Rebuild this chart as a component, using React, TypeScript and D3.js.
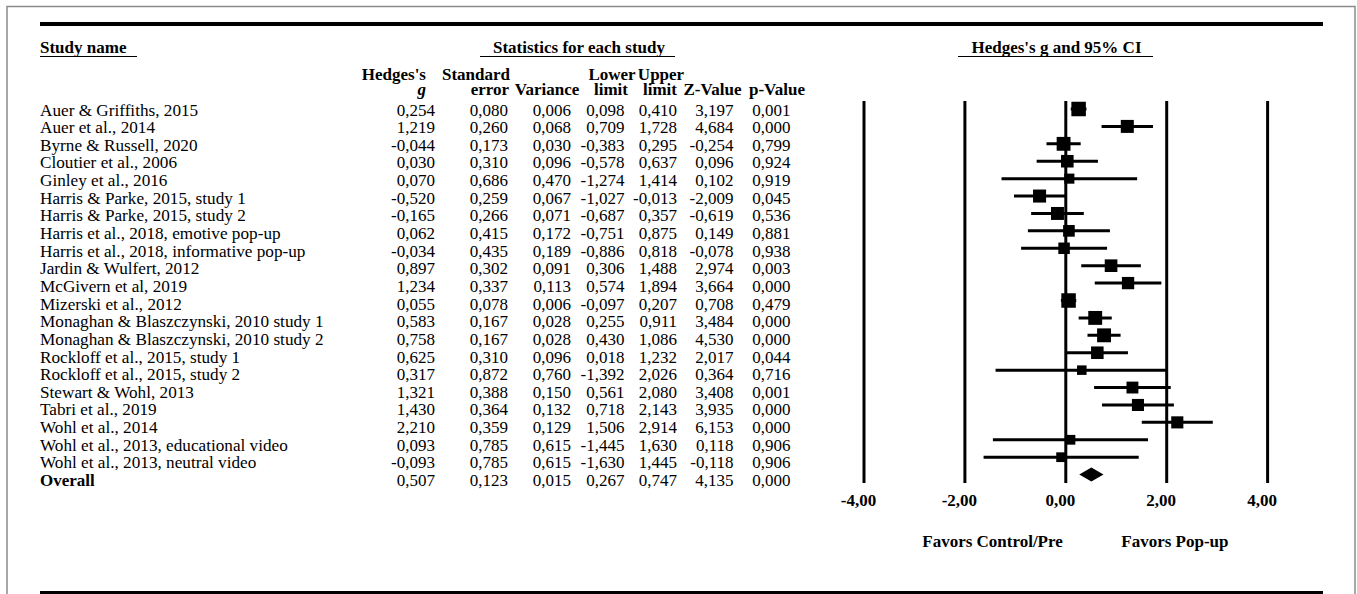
import React from "react";
import * as d3 from "d3";

const studies = [
  "Auer & Griffiths, 2015",
  "Auer et al., 2014",
  "Byrne & Russell, 2020",
  "Cloutier et al., 2006",
  "Ginley et al., 2016",
  "Harris & Parke, 2015, study 1",
  "Harris & Parke, 2015, study 2",
  "Harris et al., 2018, emotive pop-up",
  "Harris et al., 2018, informative pop-up",
  "Jardin & Wulfert, 2012",
  "McGivern et al, 2019",
  "Mizerski et al., 2012",
  "Monaghan & Blaszczynski, 2010 study 1",
  "Monaghan & Blaszczynski, 2010 study 2",
  "Rockloff et al., 2015, study 1",
  "Rockloff et al., 2015, study 2",
  "Stewart & Wohl, 2013",
  "Tabri et al., 2019",
  "Wohl et al., 2014",
  "Wohl et al., 2013, educational video",
  "Wohl et al., 2013, neutral video",
];
const hedgesG = [0.254, 1.219, -0.044, 0.03, 0.07, -0.52, -0.165, 0.062, -0.034, 0.897, 1.234, 0.055, 0.583, 0.758, 0.625, 0.317, 1.321, 1.43, 2.21, 0.093, -0.093];
const stdErr = [0.08, 0.26, 0.173, 0.31, 0.686, 0.259, 0.266, 0.415, 0.435, 0.302, 0.337, 0.078, 0.167, 0.167, 0.31, 0.872, 0.388, 0.364, 0.359, 0.785, 0.785];
const variance = [0.006, 0.068, 0.03, 0.096, 0.47, 0.067, 0.071, 0.172, 0.189, 0.091, 0.113, 0.006, 0.028, 0.028, 0.096, 0.76, 0.15, 0.132, 0.129, 0.615, 0.615];
const lowerLimit = [0.098, 0.709, -0.383, -0.578, -1.274, -1.027, -0.687, -0.751, -0.886, 0.306, 0.574, -0.097, 0.255, 0.43, 0.018, -1.392, 0.561, 0.718, 1.506, -1.445, -1.63];
const upperLimit = [0.41, 1.728, 0.295, 0.637, 1.414, -0.013, 0.357, 0.875, 0.818, 1.488, 1.894, 0.207, 0.911, 1.086, 1.232, 2.026, 2.08, 2.143, 2.914, 1.63, 1.445];
const zValue = [3.197, 4.684, -0.254, 0.096, 0.102, -2.009, -0.619, 0.149, -0.078, 2.974, 3.664, 0.708, 3.484, 4.53, 2.017, 0.364, 3.408, 3.935, 6.153, 0.118, -0.118];
const pValue = [0.001, 0.0, 0.799, 0.924, 0.919, 0.045, 0.536, 0.881, 0.938, 0.003, 0.0, 0.479, 0.0, 0.0, 0.044, 0.716, 0.001, 0.0, 0.0, 0.906, 0.906];

const overallLabel = "Overall";
const overallRow = [0.507, 0.123, 0.015, 0.267, 0.747, 4.135, 0.0];

const axisTicks = [-4, -2, 0, 2, 4];
const favorsLeft = "Favors Control/Pre";
const favorsRight = "Favors Pop-up";

const FONT = "'Liberation Serif', 'Times New Roman', Times, serif";
const fmt3 = (v: number) => d3.format(".3f")(v).replace(".", ",").replace("−", "-");
const fmt2 = (v: number) => d3.format(".2f")(v).replace(".", ",").replace("−", "-");

export default function App() {
  const W = 1357;
  const H = 594;
  const n = studies.length;

  // effect-size axis
  const x = d3.scaleLinear().domain([-4, 4]).range([864, 1267.6]);
  // row positions (markers and text)
  const yMark = d3.scaleLinear().domain([0, n]).range([109, 474.6]);
  const yText = d3.scaleLinear().domain([0, n]).range([115.5, 486]);

  // random-effects weights (DerSimonian-Laird) for box sizes
  const wFixed = variance.map((v) => 1 / v);
  const sw = d3.sum(wFixed);
  const mean = d3.sum(hedgesG.map((g, i) => g * wFixed[i])) / sw;
  const Q = d3.sum(hedgesG.map((g, i) => wFixed[i] * (g - mean) ** 2));
  const C = sw - d3.sum(wFixed.map((w) => w * w)) / sw;
  const tau2 = Math.max(0, (Q - (n - 1)) / C);
  const wRand = variance.map((v) => 1 / (v + tau2));
  const boxSize = d3
    .scaleLinear()
    .domain(d3.extent(wRand) as [number, number])
    .range([9.5, 14.5]);

  const columns: { values: number[]; right: number }[] = [
    { values: hedgesG, right: 435 },
    { values: stdErr, right: 508 },
    { values: variance, right: 571 },
    { values: lowerLimit, right: 624.5 },
    { values: upperLimit, right: 677 },
    { values: zValue, right: 733.5 },
    { values: pValue, right: 790.5 },
  ];

  const fs = 17;
  const diamond = d3.line()([
    [x(overallRow[3]), yMark(n)],
    [x(overallRow[0]), yMark(n) - 7],
    [x(overallRow[4]), yMark(n)],
    [x(overallRow[0]), yMark(n) + 7],
  ]) + "Z";

  const lineTop = 101;
  const lineBottom = 483;

  return (
    <svg
      width={W}
      height={H}
      style={{ position: "absolute", left: 0, top: 0, background: "#fff" }}
      fontFamily={FONT}
      fontSize={fs}
    >
      <rect x={0} y={0} width={W} height={H} fill="#fff" />
      {/* frame */}
      <path d={`M7,${H + 5} L7,6.5 L1355,6.5 L1355,${H + 5}`} fill="none" stroke="#8a8a8a" strokeWidth={1.5} />
      {/* thick rules */}
      <line x1={40} x2={1323} y1={24} y2={24} stroke="#000" strokeWidth={4} />
      <line x1={40} x2={1323} y1={593} y2={593} stroke="#000" strokeWidth={4} />

      {/* section titles */}
      <g fontWeight="bold">
        <text x={40} y={53}>Study name</text>
        <line x1={40} x2={137} y1={56.5} y2={56.5} stroke="#000" strokeWidth={1.2} />
        <text x={579} y={53} textAnchor="middle">Statistics for each study</text>
        <line x1={480} x2={675} y1={56.5} y2={56.5} stroke="#000" strokeWidth={1.2} />
        <text x={1056.5} y={53} textAnchor="middle">Hedges's g and 95% CI</text>
        <line x1={958} x2={1153} y1={56.5} y2={56.5} stroke="#000" strokeWidth={1.2} />
      </g>

      {/* column headers */}
      <g fontWeight="bold">
        <text x={426} y={79.5} textAnchor="end">Hedges's</text>
        <text x={426} y={94.5} textAnchor="end" fontStyle="italic">g</text>
        <text x={510} y={79.5} textAnchor="end">Standard</text>
        <text x={509} y={94.5} textAnchor="end">error</text>
        <text x={547} y={94.5} textAnchor="middle">Variance</text>
        <text x={612} y={79.5} textAnchor="middle">Lower</text>
        <text x={611} y={94.5} textAnchor="middle">limit</text>
        <text x={661} y={79.5} textAnchor="middle">Upper</text>
        <text x={660} y={94.5} textAnchor="middle">limit</text>
        <text x={712.5} y={94.5} textAnchor="middle">Z-Value</text>
        <text x={777} y={94.5} textAnchor="middle">p-Value</text>
      </g>

      {/* study rows */}
      {studies.map((s, i) => (
        <g key={s}>
          <text x={40} y={yText(i)} fontSize={17.2}>{s}</text>
          {columns.map((c, j) => (
            <text key={j} x={c.right} y={yText(i)} textAnchor="end">
              {fmt3(c.values[i])}
            </text>
          ))}
        </g>
      ))}
      <text x={40} y={yText(n)} fontWeight="bold">{overallLabel}</text>
      {columns.map((c, j) => (
        <text key={"o" + j} x={c.right} y={yText(n)} textAnchor="end">
          {fmt3(overallRow[j])}
        </text>
      ))}

      {/* reference lines */}
      {axisTicks.map((t) => (
        <line key={t} x1={x(t)} x2={x(t)} y1={lineTop} y2={lineBottom} stroke="#000" strokeWidth={3} />
      ))}

      {/* CIs and boxes */}
      {studies.map((s, i) => {
        const sz = boxSize(wRand[i]);
        return (
          <g key={"m" + s}>
            <line x1={x(lowerLimit[i])} x2={x(upperLimit[i])} y1={yMark(i)} y2={yMark(i)} stroke="#000" strokeWidth={3} />
            <rect x={x(hedgesG[i]) - sz / 2} y={yMark(i) - sz / 2} width={sz} height={sz} fill="#000" />
          </g>
        );
      })}
      <path d={diamond} fill="#000" />

      {/* tick labels */}
      <g fontWeight="bold">
        {axisTicks.map((t) => (
          <text key={"t" + t} x={x(t) - 5.5} y={506} textAnchor="middle">{fmt2(t)}</text>
        ))}
        <text x={x(0) - 3} y={547} textAnchor="end">{favorsLeft}</text>
        <text x={x(0) + 55.5} y={547}>{favorsRight}</text>
      </g>
    </svg>
  );
}
